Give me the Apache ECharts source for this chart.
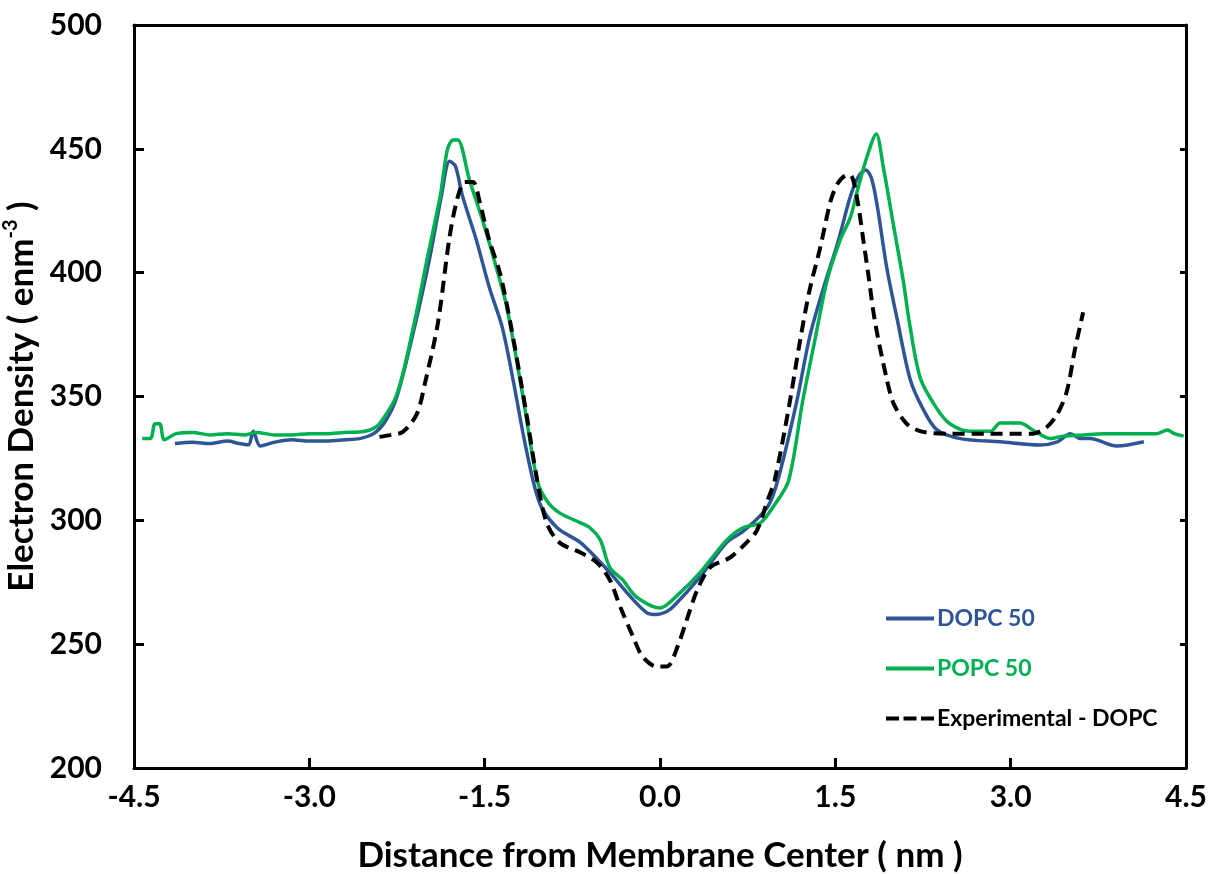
<!DOCTYPE html>
<html>
<head>
    <meta charset="UTF-8">
    <title>Electron Density</title>
    <style>
        html, body { margin: 0; padding: 0; background: #fff; }
        #chart { width: 1209px; height: 874px; }
    </style>
    <script src="https://cdn.jsdelivr.net/npm/echarts@6/dist/echarts.min.js"></script>
</head>
<body>
<div id="chart"></div>
<script type="text/javascript">
    // 坐标轴刻度
    var xTicks = [-4.5, -3.0, -1.5, 0.0, 1.5, 3.0, 4.5];
    var yTicks = [200, 250, 300, 350, 400, 450, 500];

    // DOPC 50
    var dopcX = [-4.15, -4.0, -3.85, -3.7, -3.6, -3.52, -3.48, -3.42, -3.3, -3.15, -3.0, -2.85, -2.7, -2.57, -2.45, -2.35, -2.25, -2.1, -1.97, -1.87, -1.8, -1.75, -1.69, -1.57, -1.46, -1.35, -1.25, -1.15, -1.03, -0.88, -0.68, -0.45, -0.23, -0.11, -0.03, 0.05, 0.11, 0.34, 0.57, 0.71, 0.88, 0.95, 1.03, 1.17, 1.28, 1.40, 1.52, 1.63, 1.70, 1.76, 1.81, 1.86, 1.94, 2.03, 2.14, 2.25, 2.37, 2.57, 2.91, 3.25, 3.40, 3.51, 3.60, 3.68, 3.91, 4.14];
    var dopcY = [331, 331.5, 331, 332, 331, 330.5, 336, 330, 331.5, 332.5, 332, 332, 332.5, 333, 335, 340, 350, 378, 406, 431, 445, 443, 431, 413, 394, 378, 355, 330, 307, 297, 291, 280, 268, 262.6, 262, 263, 265, 277, 291, 295.5, 303, 308, 320, 348, 374, 394, 412, 431, 439, 441.5, 438, 426.5, 402, 381, 357, 345, 336.5, 333, 331.7, 330.4, 331.7, 335, 333, 333, 330, 331.7];

    // POPC 50
    var popcX = [-4.43, -4.36, -4.32, -4.28, -4.24, -4.14, -4.0, -3.85, -3.7, -3.55, -3.45, -3.3, -3.15, -3.0, -2.85, -2.7, -2.57, -2.48, -2.40, -2.25, -2.11, -1.99, -1.88, -1.82, -1.77, -1.73, -1.63, -1.51, -1.40, -1.31, -1.18, -1.05, -0.97, -0.86, -0.68, -0.60, -0.51, -0.43, -0.32, -0.20, 0.0, 0.17, 0.34, 0.57, 0.71, 0.86, 0.97, 1.10, 1.22, 1.33, 1.43, 1.54, 1.63, 1.69, 1.77, 1.85, 1.91, 2.0, 2.08, 2.14, 2.23, 2.37, 2.48, 2.65, 2.83, 2.91, 3.08, 3.19, 3.34, 3.45, 3.62, 3.8, 4.05, 4.25, 4.34, 4.40, 4.48];
    var popcY = [333, 333, 339, 339, 332.5, 335, 335.5, 334.5, 335, 334.5, 335.5, 334.5, 334.5, 335, 335, 335.5, 335.7, 336.5, 339, 351, 378, 406, 431, 449.5, 453.6, 453.6, 437.4, 420, 402, 386, 352, 316, 308, 303, 299, 297, 292, 281, 276, 269, 264.6, 270.7, 278.8, 292, 297, 299, 305.6, 316, 348, 374, 397, 413, 422.5, 433.4, 446.7, 456, 442.7, 418.5, 397, 378, 357, 345, 339, 336, 336, 339.3, 339.3, 336.5, 333, 334, 334.5, 335, 335, 335, 336.5, 335, 334];

    // Experimental - DOPC
    var expX = [-2.40, -2.30, -2.20, -2.08, -2.01, -1.90, -1.80, -1.73, -1.67, -1.60, -1.54, -1.46, -1.37, -1.28, -1.15, -1.05, -0.97, -0.86, -0.68, -0.54, -0.43, -0.34, -0.23, -0.15, -0.03, 0.06, 0.15, 0.23, 0.32, 0.43, 0.60, 0.74, 0.83, 0.92, 0.98, 1.1, 1.2, 1.28, 1.37, 1.46, 1.52, 1.60, 1.64, 1.69, 1.74, 1.78, 1.84, 1.94, 2.0, 2.11, 2.25, 2.48, 2.8, 3.19, 3.31, 3.40, 3.48, 3.55, 3.62];
    var expY = [333.7, 334.5, 335.7, 343, 355.5, 379.7, 414.5, 430.6, 436.6, 436.6, 428, 413, 400, 379.7, 345, 316, 299, 291, 287, 283, 276, 265, 253, 245, 241, 241, 249, 260, 272, 281, 285, 291, 296, 308, 316, 345, 373, 393, 410, 429, 436, 439.4, 439, 429, 413, 400, 380, 357, 347, 339, 335.7, 335, 335, 335, 337.7, 343, 352, 369, 384];

    var names = ['DOPC 50', 'POPC 50', 'Experimental - DOPC'];
    var colors = ['#2F5597', '#00B050', '#000000'];
    // 图例图标：实线和虚线
    var icons = ['rect', 'rect', 'path://M0,0h13v4h-13z M17.5,0h13v4h-13z M35,0h13v4h-13z'];

    function zip(xs, ys) {
        var out = [];
        for (var i = 0; i < xs.length; i++) {
            out.push([xs[i], ys[i]]);
        }
        return out;
    }

    var font = 'Lato';
    var myChart = echarts.init(document.getElementById('chart'));

    var option = {
        backgroundColor: '#fff',
        animation: false,
        grid: { left: 134, right: 23, top: 25, bottom: 106, containLabel: false, outerBoundsMode: 'none' },
        legend: {
            orient: 'vertical',
            left: 881,
            top: 602,
            itemWidth: 48,
            itemHeight: 4,
            itemGap: 27,
            textStyle: { fontFamily: font, fontWeight: 'bold', fontSize: 23, padding: [0, 0, 0, -2] },
            data: names.map(function (n, i) {
                return { name: n, icon: icons[i], itemStyle: { color: colors[i] }, textStyle: { color: colors[i] } };
            })
        },
        xAxis: [{
            type: 'value',
            min: xTicks[0],
            max: xTicks[xTicks.length - 1],
            interval: 1.5,
            name: 'Distance from Membrane Center ( nm )',
            nameLocation: 'middle',
            nameGap: 70,
            nameTextStyle: { fontFamily: font, fontWeight: 'bold', fontSize: 35, color: '#000' },
            axisLine: { onZero: false, lineStyle: { color: '#000', width: 3 } },
            axisTick: { inside: true, length: 10, lineStyle: { color: '#000', width: 3 } },
            axisLabel: {
                margin: 14,
                fontFamily: font, fontWeight: 'bold', fontSize: 30, color: '#000',
                formatter: function (v) { return v.toFixed(1); }
            },
            splitLine: { show: false }
        }, {
            type: 'value',
            position: 'top',
            min: xTicks[0],
            max: xTicks[xTicks.length - 1],
            interval: 1.5,
            axisLine: { show: true, onZero: false, lineStyle: { color: '#000', width: 3 } },
            axisTick: { show: false },
            axisLabel: { show: false },
            splitLine: { show: false }
        }],
        yAxis: [{
            type: 'value',
            min: yTicks[0],
            max: yTicks[yTicks.length - 1],
            interval: 50,
            name: '{a|Electron Density ( enm}{s|-3}{a| )}',
            nameLocation: 'middle',
            nameGap: 82,
            nameTextStyle: {
                fontFamily: font, fontWeight: 'bold', fontSize: 35, color: '#000',
                rich: {
                    a: { fontFamily: font, fontWeight: 'bold', fontSize: 35, color: '#000', lineHeight: 42 },
                    s: { fontFamily: font, fontWeight: 'bold', fontSize: 20, color: '#000', lineHeight: 42, verticalAlign: 'top' }
                }
            },
            axisLine: { show: true, onZero: false, lineStyle: { color: '#000', width: 3 } },
            axisTick: { show: true, inside: true, length: 10, lineStyle: { color: '#000', width: 3 } },
            axisLabel: { margin: 32, fontFamily: font, fontWeight: 'bold', fontSize: 30, color: '#000' },
            splitLine: { show: false }
        }, {
            type: 'value',
            position: 'right',
            min: yTicks[0],
            max: yTicks[yTicks.length - 1],
            interval: 50,
            axisLine: { show: true, onZero: false, lineStyle: { color: '#000', width: 3 } },
            axisTick: { show: true, inside: true, length: 6, lineStyle: { color: '#000', width: 3 } },
            axisLabel: { show: false },
            splitLine: { show: false }
        }],
        series: [{
            name: names[0],
            type: 'line',
            symbol: 'none',
            smooth: 0.3,
            data: zip(dopcX, dopcY),
            lineStyle: { color: colors[0], width: 3.5 },
            itemStyle: { color: colors[0] }
        }, {
            name: names[1],
            type: 'line',
            symbol: 'none',
            smooth: 0.3,
            data: zip(popcX, popcY),
            lineStyle: { color: colors[1], width: 3.5 },
            itemStyle: { color: colors[1] }
        }, {
            name: names[2],
            type: 'line',
            symbol: 'none',
            smooth: 0.3,
            data: zip(expX, expY),
            lineStyle: { color: colors[2], width: 4, type: [12, 7] },
            itemStyle: { color: colors[2] }
        }]
    };

    myChart.setOption(option);
</script>
</body>
</html>
